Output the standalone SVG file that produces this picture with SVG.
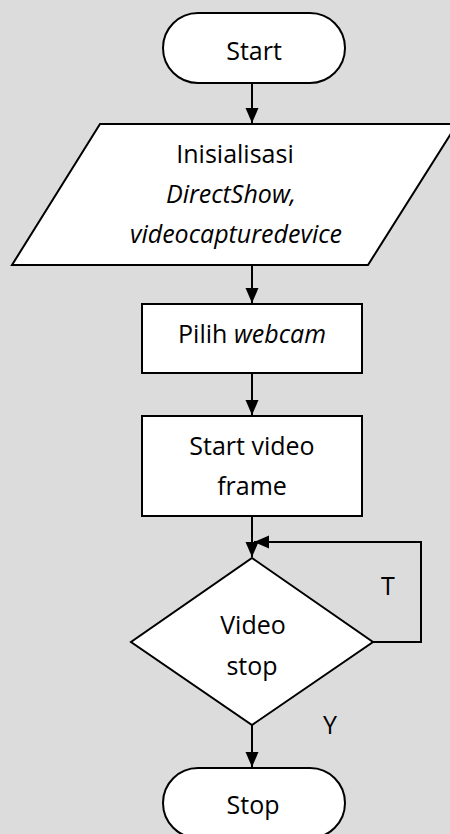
<svg xmlns="http://www.w3.org/2000/svg" width="450" height="834" viewBox="0 0 450 834">
  <style>
    .shape { fill: #ffffff; stroke: #000000; stroke-width: 2; }
    .conn { fill: none; stroke: #000000; stroke-width: 2; }
    .txt { font-family: "Open Sans", "Liberation Sans", sans-serif; font-size: 25px; fill: #000000; text-anchor: middle; }
    .it { font-style: italic; }
  </style>
  <defs>
    <marker id="arrow" markerUnits="userSpaceOnUse" markerWidth="16" markerHeight="14" refX="15" refY="6.5" orient="auto">
      <path d="M0,0 L15,6.5 L0,13 Z" fill="#000000"/>
    </marker>
  </defs>
  <rect x="0" y="0" width="450" height="834" fill="#dcdcdc"/>

  <g id="connectors">
    <line class="conn" x1="252" y1="83" x2="252" y2="123" marker-end="url(#arrow)"/>
    <line class="conn" x1="252" y1="265" x2="252" y2="303" marker-end="url(#arrow)"/>
    <line class="conn" x1="252" y1="373" x2="252" y2="415" marker-end="url(#arrow)"/>
    <line class="conn" x1="252" y1="516" x2="252" y2="557" marker-end="url(#arrow)"/>
    <polyline class="conn" points="373,642 421,642 421,542 254,542" marker-end="url(#arrow)"/>
    <line class="conn" x1="252" y1="725" x2="252" y2="767" marker-end="url(#arrow)"/>
    <text class="txt" x="388" y="595">T</text>
    <text class="txt" x="330" y="734">Y</text>
  </g>

  <g id="start">
    <rect class="shape" x="163" y="13" width="182" height="70" rx="35" ry="35"/>
    <text class="txt" x="254" y="60">Start</text>
  </g>

  <g id="init">
    <polygon class="shape" points="100,124 457,124 368,265 12,265"/>
    <text class="txt" x="235" y="163">Inisialisasi</text>
    <text class="txt it" x="231" y="203">DirectShow,</text>
    <text class="txt it" x="236" y="243">videocapturedevice</text>
  </g>

  <g id="pilih">
    <rect class="shape" x="142" y="304" width="220" height="69"/>
    <text class="txt" x="252" y="343">Pilih <tspan class="it">webcam</tspan></text>
  </g>

  <g id="startvideo">
    <rect class="shape" x="142" y="416" width="220" height="100"/>
    <text class="txt" x="252" y="455">Start video</text>
    <text class="txt" x="252" y="495">frame</text>
  </g>

  <g id="decision">
    <polygon class="shape" points="252,558 373,642 252,725 131,642"/>
    <text class="txt" x="253" y="634">Video</text>
    <text class="txt" x="252" y="675">stop</text>
  </g>

  <g id="stop">
    <rect class="shape" x="163" y="768" width="182" height="70" rx="35" ry="35"/>
    <text class="txt" x="253" y="814">Stop</text>
  </g>
</svg>
